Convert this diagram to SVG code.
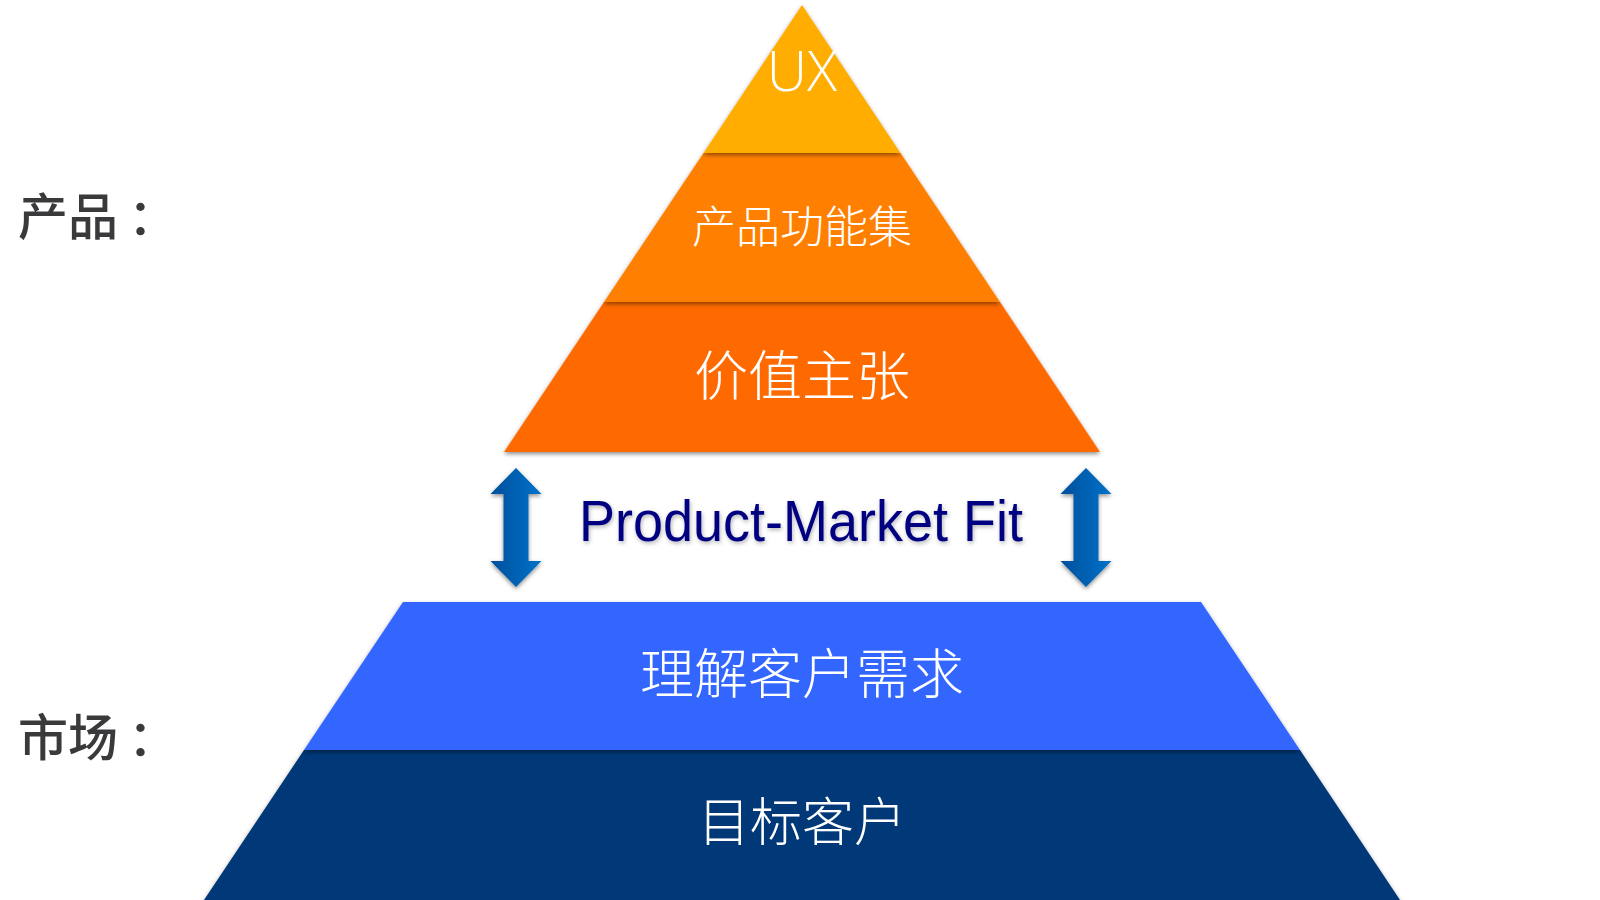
<svg xmlns="http://www.w3.org/2000/svg" width="1600" height="900" viewBox="0 0 1600 900">
  <defs>
    <filter id="sh" x="-10%" y="-10%" width="120%" height="120%">
      <feDropShadow dx="0" dy="2" stdDeviation="2" flood-color="#000" flood-opacity="0.45"/>
    </filter>
    <filter id="tsh" x="-10%" y="-20%" width="120%" height="140%">
      <feDropShadow dx="1" dy="2" stdDeviation="2" flood-color="#000" flood-opacity="0.3"/>
    </filter>
    <linearGradient id="arrowGrad" x1="0" y1="0" x2="1" y2="0">
      <stop offset="0" stop-color="#004f9c"/>
      <stop offset="1" stop-color="#0072c9"/>
    </linearGradient>
    <style>
      .ptxt { font-family: "Noto Sans CJK SC", sans-serif; font-weight: 300; fill: #ffffff; text-anchor: middle; }
      .side { font-family: "Noto Sans CJK SC", sans-serif; font-weight: 500; fill: #3a3a3c; font-size: 50px; }
      .arrow { fill: url(#arrowGrad); filter: url(#sh); }
    </style>
  </defs>
  <rect width="1600" height="900" fill="#ffffff"/>

  <g id="dark-layer">
    <polygon points="304,750 1300,750 1420,930 184,930" fill="#003878" filter="url(#sh)"/>
    <text class="ptxt" x="802" y="841" font-size="52">目标客户</text>
  </g>
  <g id="blue-layer">
    <polygon points="403,602 1201,602 1300,750 304,750" fill="#3366ff" filter="url(#sh)"/>
    <text class="ptxt" x="802" y="694" font-size="54">理解客户需求</text>
  </g>

  <g id="value-layer">
    <polygon points="604,302 1000,302 1100,452 504,452" fill="#ff6a00" filter="url(#sh)"/>
    <text class="ptxt" x="802" y="396" font-size="54">价值主张</text>
  </g>
  <g id="feature-layer">
    <polygon points="703.5,153 900.5,153 1000,302 604,302" fill="#ff8000" filter="url(#sh)"/>
    <text class="ptxt" x="802" y="243" font-size="44">产品功能集</text>
  </g>
  <g id="ux-layer">
    <polygon points="802,5 900.5,153 703.5,153" fill="#ffad00" filter="url(#sh)"/>
    <text x="802" y="91" font-family="'Open Sans', sans-serif" font-weight="300" font-size="56" fill="#ffffff" text-anchor="middle">UX</text>
  </g>

  <g id="pmf-label">
    <text x="579" y="541" font-family="'Liberation Sans', Arial, sans-serif" font-size="58" fill="#000080" textLength="444" lengthAdjust="spacingAndGlyphs" filter="url(#tsh)">Product-Market Fit</text>
  </g>

  <g id="connectors">
    <polygon class="arrow" points="516,468 541.5,494 528.5,494 528.5,561 541.5,561 516,587 490.5,561 503.5,561 503.5,494 490.5,494"/>
    <polygon class="arrow" points="1086,468 1111.5,494 1098.5,494 1098.5,561 1111.5,561 1086,587 1060.5,561 1073.5,561 1073.5,494 1060.5,494"/>
  </g>

  <g id="product-label">
    <text class="side" x="18" y="235">产品<tspan dx="10">：</tspan></text>
  </g>
  <g id="market-label">
    <text class="side" x="18" y="756">市场<tspan dx="10">：</tspan></text>
  </g>
</svg>
